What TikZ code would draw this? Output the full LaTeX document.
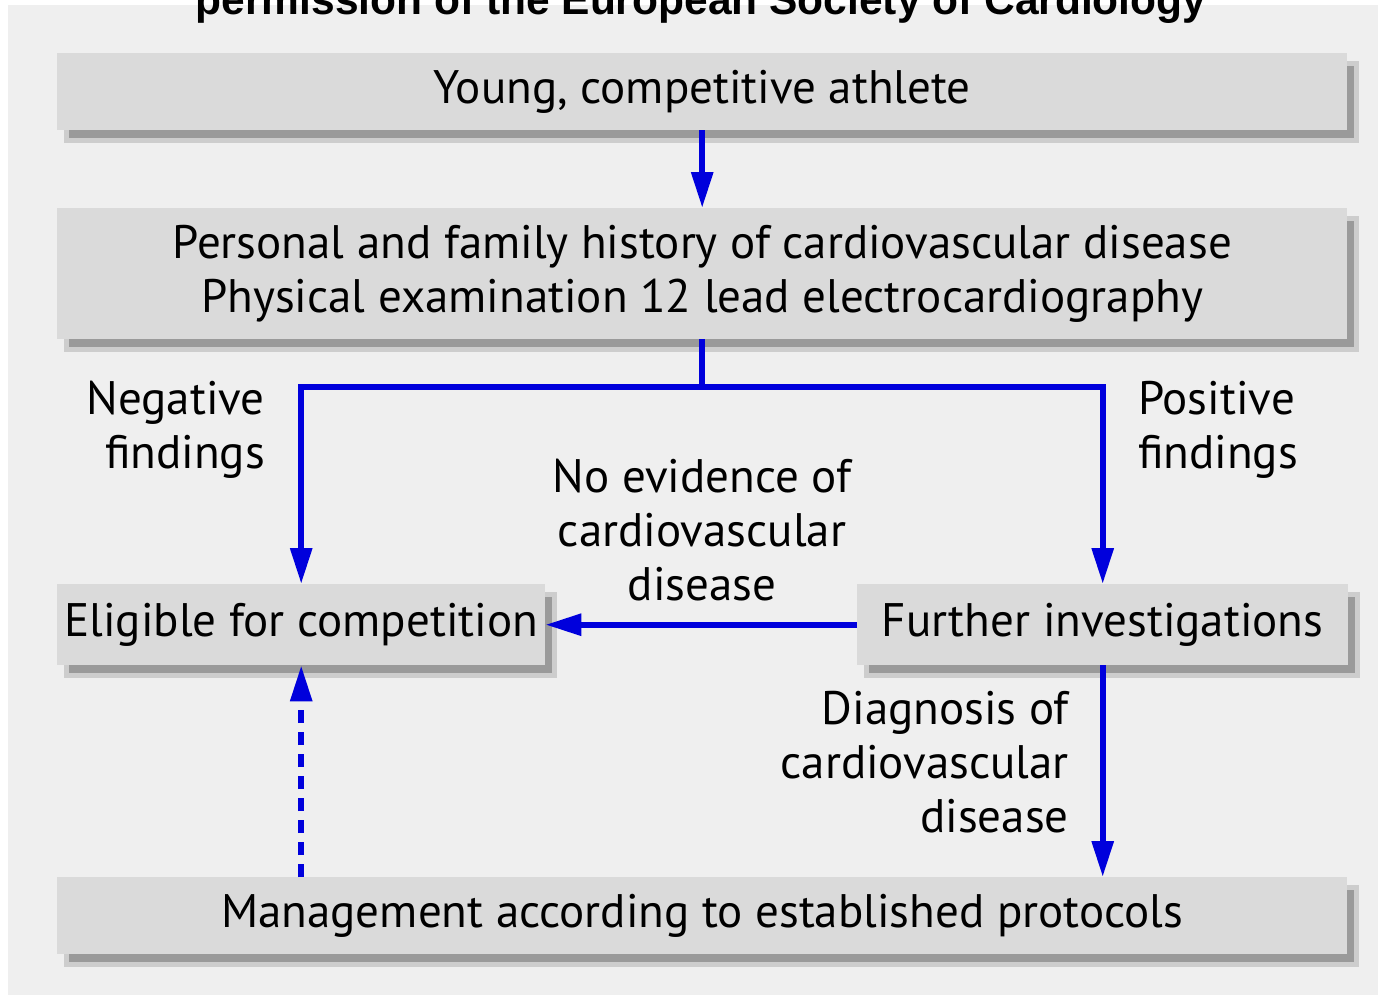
\documentclass[tikz,border=0pt]{standalone}
\usepackage{fontspec}
\setmainfont{PT Sans}
\newfontfamily\titlefont{Liberation Sans}
\usetikzlibrary{arrows.meta}
\definecolor{panel}{HTML}{EFEFEF}
\definecolor{boxfill}{HTML}{DADADA}
\definecolor{shadowdark}{HTML}{9A9A9A}
\definecolor{shadowlight}{HTML}{CDCDCD}
\definecolor{flowblue}{HTML}{0000DC}
\pgfdeclarelayer{bg}
\pgfdeclarelayer{shadowlayer}
\pgfsetlayers{bg,shadowlayer,main}
\tikzset{
  boxnode/.style={rectangle, fill=boxfill, inner sep=0pt, anchor=north west,
    align=center, font=\fontsize{47}{54}\selectfont},
  lbl/.style={inner sep=0pt, font=\fontsize{47}{54}\selectfont},
  flow/.style={draw=flowblue, line width=6pt, -{Triangle[length=36pt,width=21pt]}},
  flowline/.style={draw=flowblue, line width=6pt},
  dashflow/.style={flow, dash pattern=on 13pt off 9pt},
}
\newcommand{\boxshadow}[1]{%
  \begin{pgfonlayer}{shadowlayer}
    \fill[shadowdark, draw=shadowlight, line width=5pt]
      ([shift={(9pt,-10pt)}]#1.north west) rectangle ([shift={(9pt,-10pt)}]#1.south east);
  \end{pgfonlayer}}
\begin{document}
\begin{tikzpicture}[x=1pt,y=-1pt]
\useasboundingbox (0,0) rectangle (1378,997);
\clip (0,0) rectangle (1378,997);
\begin{pgfonlayer}{bg}
  \fill[white] (0,0) rectangle (1378,997);
  \fill[panel] (8,5) rectangle (1378,995);
\end{pgfonlayer}
\node[anchor=base, inner sep=0pt, font=\titlefont\bfseries\fontsize{42.5}{42.5}\selectfont] (title) at (701,14) {permission of the European Society of Cardiology};

\node[boxnode, minimum width=1290pt, minimum height=77pt] (b1) at (57,53) {Young, competitive athlete};
\node[boxnode, minimum width=1290pt, minimum height=131pt] (b2) at (57,208) {Personal and family history of cardiovascular disease\\Physical examination 12 lead electrocardiography};
\node[boxnode, minimum width=488pt, minimum height=81pt] (b3) at (57,584) {Eligible for competition};
\node[boxnode, minimum width=491pt, minimum height=81pt] (b4) at (857,584) {Further investigations};
\node[boxnode, minimum width=1290pt, minimum height=77pt] (b5) at (57,877) {Management according to established protocols};
\boxshadow{b1}\boxshadow{b2}\boxshadow{b3}\boxshadow{b4}\boxshadow{b5}

\node[lbl, align=right, anchor=east] (neg) at (265,430) {Negative\\findings};
\node[lbl, align=left, anchor=west] (pos) at (1138,430) {Positive\\findings};
\node[lbl, align=center] (noev) at (702,530) {No evidence of\\cardiovascular\\disease};
\node[lbl, align=right, anchor=east] (diag) at (1069,762) {Diagnosis of\\cardiovascular\\disease};

\draw[flow] (b1.south) -- (b2.north);
\draw[flowline] (b2.south) -- (b2.south |- 0,387) coordinate (j);
\draw[flow] (j) -| (b3.north);
\draw[flow] (j) -| (b4.north);
\draw[flow] (b4.west) -- (b3.east);
\draw[flow] (b4.south) -- (b4.south |- b5.north);
\draw[dashflow] (b3.south |- b5.north) -- (b3.south);
\end{tikzpicture}
\end{document}
